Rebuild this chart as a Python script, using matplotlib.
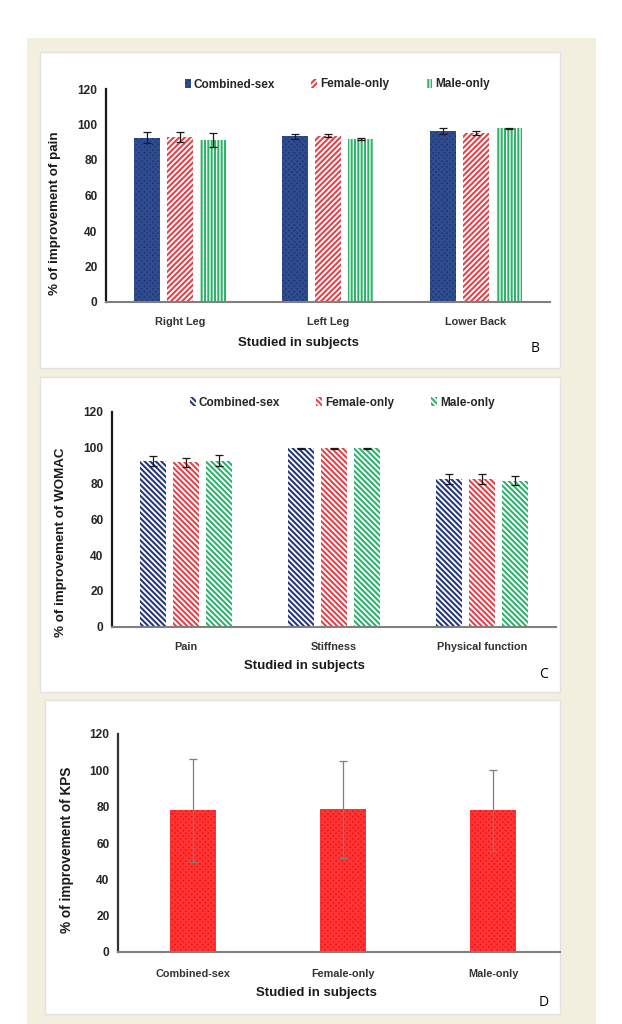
import matplotlib
matplotlib.use("Agg")
import matplotlib.pyplot as plt
from matplotlib.patches import Rectangle
import numpy as np

# panel B - pain
b_categories = ['Right Leg', 'Left Leg', 'Lower Back']
b_combined = [92.6, 93.3, 96.3]
b_combined_err = [3.2, 1.2, 1.8]
b_female = [93.0, 93.8, 95.1]
b_female_err = [3.0, 1.0, 1.2]
b_male = [91.3, 91.9, 97.8]
b_male_err = [3.7, 0.5, 0.4]

# panel C - WOMAC
c_categories = ['Pain', 'Stiffness', 'Physical function']
c_combined = [92.3, 99.6, 82.4]
c_combined_err = [2.8, 0.3, 2.8]
c_female = [91.7, 99.6, 82.4]
c_female_err = [2.5, 0.3, 3.0]
c_male = [92.7, 99.6, 81.5]
c_male_err = [3.2, 0.3, 2.5]

# panel D - KPS
d_categories = ['Combined-sex', 'Female-only', 'Male-only']
d_values = [77.9, 78.6, 77.9]
d_err = [28.4, 26.7, 22.1]

series_names = ['Combined-sex', 'Female-only', 'Male-only']
yticks = [0, 20, 40, 60, 80, 100, 120]

W, H = 622, 1024
plt.rcParams['font.family'] = ['Liberation Sans', 'DejaVu Sans']
plt.rcParams['hatch.linewidth'] = 1.5

fig = plt.figure(figsize=(W / 100, H / 100), dpi=100)
fig.patch.set_facecolor('white')


def fx(x):
    return x / W


def fy(y):
    return 1 - y / H


def box(x0, y0, x1, y1, fc, ec='none'):
    fig.add_artist(Rectangle((fx(x0), fy(y1)), fx(x1) - fx(x0), (y1 - y0) / H,
                             transform=fig.transFigure, facecolor=fc,
                             edgecolor=ec, linewidth=1.0, zorder=0))


def make_axes(left, right, y0, y120):
    ax = fig.add_axes([fx(left), fy(y0), fx(right) - fx(left), (y0 - y120) / H])
    ax.set_facecolor('none')
    ax.set_ylim(0, 120)
    ax.set_yticks(yticks)
    ax.tick_params(axis='both', length=0)
    ax.tick_params(axis='y', pad=6, labelsize=8.6, labelcolor='#262626')
    for lab in ax.get_yticklabels():
        lab.set_fontweight('bold')
    for s in ['top', 'right']:
        ax.spines[s].set_visible(False)
    ax.spines['left'].set_color('#1a1a1a')
    ax.spines['left'].set_linewidth(1.6)
    ax.spines['bottom'].set_color('#808080')
    ax.spines['bottom'].set_linewidth(1.5)
    return ax


def set_cats(ax, cats, pad):
    ax.set_xticks(range(len(cats)))
    ax.set_xticklabels(cats, fontsize=7.8, fontweight='bold', color='#333333')
    ax.tick_params(axis='x', pad=pad)


def labels(ylabel, ypos, ysize, xlabel, xpos, letter, lpos):
    fig.text(fx(ypos[0]), fy(ypos[1]), ylabel, rotation=90, ha='center',
             va='center', fontsize=ysize, fontweight='bold', color='#1a1a1a')
    fig.text(fx(xpos[0]), fy(xpos[1]), xlabel, ha='center', va='center',
             fontsize=9.5, fontweight='bold', color='#1a1a1a')
    fig.text(fx(lpos[0]), fy(lpos[1]), letter, ha='center', va='center',
             fontsize=10, family='Open Sans', color='black')


# background and panels
box(27, 38, 596, 1024, '#f2efdf')
box(40, 52, 560, 368, 'white', '#e2e2e2')
box(40, 377, 560, 692, 'white', '#e2e2e2')
box(45, 700, 560, 1014, 'white', '#e2e2e2')

width = 0.175
offset = 0.223
x = np.arange(3)
err_kw = dict(ecolor='#1a1a1a', elinewidth=0.9, capsize=3.2, capthick=0.9)

# ---- B
axB = make_axes(106, 550, 302, 89)
b_styles = [
    dict(color='#1e3874', edgecolor='#2f4d8e', hatch='xxxxxx'),
    dict(color='white', edgecolor='#e6424a', hatch='//////'),
    dict(color='white', edgecolor='#2db36a', hatch='|||||'),
]
b_data = [(b_combined, b_combined_err), (b_female, b_female_err), (b_male, b_male_err)]
handles = []
for i, ((vals, errs), st) in enumerate(zip(b_data, b_styles)):
    h = axB.bar(x + (i - 1) * offset, vals, width, yerr=errs, linewidth=0,
                error_kw=err_kw, label=series_names[i], **st)
    handles.append(h)
axB.set_xlim(-0.5, 2.5)
set_cats(axB, b_categories, 11)
fig.legend(handles=handles, loc='center', bbox_to_anchor=(fx(337), fy(84.5)),
           ncol=3, frameon=False, handlelength=0.5, handleheight=0.7,
           handletextpad=0.25, columnspacing=3.1,
           prop=dict(size=8.5, weight='bold'), labelcolor='#262626')
labels('% of improvement of pain', (55, 213), 9.6, 'Studied in subjects',
       (298, 343), 'B', (535, 348))

# ---- C
axC = make_axes(112, 556, 626.7, 411.7)
c_colors = ['#27397a', '#e6424a', '#2db36e']
c_data = [(c_combined, c_combined_err), (c_female, c_female_err), (c_male, c_male_err)]
handles = []
for i, (vals, errs) in enumerate(c_data):
    h = axC.bar(x + (i - 1) * offset, vals, width, yerr=errs, linewidth=0,
                color='white', edgecolor=c_colors[i], hatch='\\' * 6,
                error_kw=err_kw, label=series_names[i])
    handles.append(h)
axC.set_xlim(-0.5, 2.5)
set_cats(axC, c_categories, 11)
fig.legend(handles=handles, loc='center', bbox_to_anchor=(fx(342), fy(402.7)),
           ncol=3, frameon=False, handlelength=0.5, handleheight=0.7,
           handletextpad=0.25, columnspacing=3.1,
           prop=dict(size=8.5, weight='bold'), labelcolor='#262626')
labels('% of improvement of WOMAC', (61, 542), 9.6, 'Studied in subjects',
       (304, 665.7), 'C', (543, 674))

# ---- D
axD = make_axes(118, 560, 952, 734)
axD.bar(x, d_values, 0.31, yerr=d_err, color='#f01818', edgecolor='#ff3434',
        hatch='xxxxxx', linewidth=0,
        error_kw=dict(ecolor='#7f7f7f', elinewidth=0.9, capsize=3.0, capthick=0.9))
axD.set_xlim(-0.5, -0.5 + 442 / 150)
axD.spines['left'].set_color('#333333')
set_cats(axD, d_categories, 12)
labels('% of improvement of KPS', (66.6, 850), 9.8, 'Studied in subjects',
       (316, 992.7), 'D', (544, 1003))

fig.savefig('out.png', dpi=100, facecolor=fig.get_facecolor())
